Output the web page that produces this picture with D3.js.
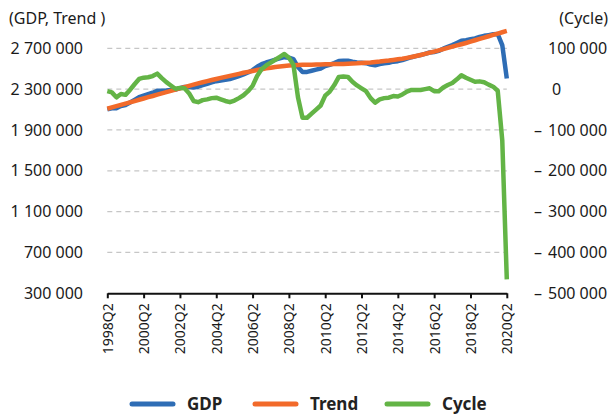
<!DOCTYPE html>
<html>
<head>
<meta charset="utf-8">
<script src="https://cdn.jsdelivr.net/npm/d3@7"></script>
<style>
  body { margin: 0; background: #fff; }
  svg { display: block; font-family: "Noto Sans", sans-serif; }
</style>
</head>
<body>
<div id="chart"></div>
<script>
// quarterly labels, 1998Q2 .. 2020Q2
const quarters = [];
for (let y = 1998; y <= 2020; y++) {
  for (let q = 1; q <= 4; q++) {
    if ((y === 1998 && q < 2) || (y === 2020 && q > 2)) continue;
    quarters.push(y + "Q" + q);
  }
}
const tickLabels = ["1998Q2", "2000Q2", "2002Q2", "2004Q2", "2006Q2", "2008Q2",
  "2010Q2", "2012Q2", "2014Q2", "2016Q2", "2018Q2", "2020Q2"];

// values in thousands
const gdp = [2103, 2113, 2113, 2134, 2144, 2169, 2195, 2221, 2236, 2250,
  2265, 2284, 2285, 2287, 2292, 2296, 2310, 2322, 2322, 2315,
  2324, 2340, 2353, 2367, 2378, 2385, 2391, 2398, 2412, 2428,
  2445, 2464, 2486, 2519, 2544, 2561, 2575, 2589, 2601, 2613,
  2608, 2594, 2516, 2468, 2469, 2480, 2491, 2502, 2527, 2538,
  2555, 2576, 2578, 2579, 2569, 2562, 2558, 2554, 2540, 2533,
  2545, 2553, 2559, 2569, 2574, 2585, 2600, 2613, 2623, 2633,
  2646, 2659, 2663, 2675, 2696, 2714, 2731, 2752, 2774, 2780,
  2788, 2797, 2811, 2822, 2829, 2837, 2840, 2732, 2404];

const trend = [2108, 2121, 2133, 2146, 2158, 2171, 2183, 2196, 2208, 2221,
  2233, 2246, 2258, 2270, 2283, 2295, 2307, 2320, 2332, 2344,
  2356, 2367, 2378, 2389, 2399, 2410, 2420, 2430, 2440, 2450,
  2460, 2469, 2478, 2487, 2495, 2503, 2510, 2517, 2522, 2527,
  2531, 2534, 2536, 2538, 2539, 2540, 2541, 2542, 2543, 2544,
  2545, 2546, 2547, 2549, 2551, 2553, 2556, 2559, 2562, 2566,
  2570, 2575, 2580, 2586, 2592, 2598, 2606, 2615, 2625, 2635,
  2646, 2657, 2668, 2680, 2692, 2704, 2716, 2728, 2740, 2752,
  2765, 2779, 2792, 2805, 2818, 2831, 2844, 2857, 2870];

const cycle = [-5, -8, -20, -12, -14, -2, 12, 25, 28, 29,
  32, 38, 27, 17, 9, 1, 3, 2, -10, -29,
  -32, -27, -25, -22, -21, -25, -29, -32, -28, -22,
  -15, -5, 8, 32, 49, 58, 65, 72, 79, 86,
  77, 60, -20, -70, -70, -60, -50, -40, -16, -6,
  10, 30, 31, 30, 18, 9, 2, -5, -22, -33,
  -25, -22, -21, -17, -18, -13, -6, -2, -2, -2,
  0, 2, -5, -5, 4, 10, 15, 24, 34, 28,
  23, 18, 19, 17, 11, 6, -4, -125, -466];

const leftTicks = [300000, 700000, 1100000, 1500000, 1900000, 2300000, 2700000];
const rightTicks = [100000, 0, -100000, -200000, -300000, -400000, -500000];

const seriesNames = ["GDP", "Trend", "Cycle"];
const colors = { GDP: "#2e6db5", Trend: "#f26a2a", Cycle: "#63b446" };

const width = 612;
const height = 416;

const svg = d3.select("#chart").append("svg")
  .attr("width", width)
  .attr("height", height);

const x = d3.scaleLinear().domain([0, quarters.length - 1]).range([107.3, 506.8]);
const yLeft = d3.scaleLinear().domain([300000, 2700000]).range([293.3, 48.3]);
const yRight = d3.scaleLinear().domain([-500000, 100000]).range([293.3, 48.3]);

const fmt = (v) => d3.format(",")(Math.abs(v)).replace(/,/g, " ");

// grid
svg.append("g")
  .selectAll("line")
  .data(leftTicks.slice(1))
  .join("line")
  .attr("x1", x(0))
  .attr("x2", x(quarters.length - 1))
  .attr("y1", (d) => yLeft(d))
  .attr("y2", (d) => yLeft(d))
  .attr("stroke", "#c6c6c6")
  .attr("stroke-width", 1.2)
  .attr("stroke-dasharray", "5,4");

// left labels
svg.append("g")
  .selectAll("text")
  .data(leftTicks)
  .join("text")
  .attr("x", 83)
  .attr("y", (d) => yLeft(d))
  .attr("dy", "0.35em")
  .attr("text-anchor", "end")
  .attr("font-size", 16)
  .attr("fill", "#1a1a1a")
  .text(fmt);

// right labels
const right = svg.append("g");
right.selectAll("text.num")
  .data(rightTicks)
  .join("text")
  .attr("class", "num")
  .attr("x", (d) => (d === 0 ? 552 : 548))
  .attr("y", (d) => yRight(d))
  .attr("dy", "0.35em")
  .attr("font-size", 16)
  .attr("fill", "#1a1a1a")
  .text(fmt);
right.selectAll("text.neg")
  .data(rightTicks.filter((d) => d < 0))
  .join("text")
  .attr("class", "neg")
  .attr("x", 542)
  .attr("y", (d) => yRight(d))
  .attr("dy", "0.35em")
  .attr("text-anchor", "end")
  .attr("font-size", 16)
  .attr("fill", "#1a1a1a")
  .text("–");

svg.append("text")
  .attr("x", 9).attr("y", 24)
  .attr("font-size", 16).attr("fill", "#1a1a1a")
  .text("(GDP, Trend )");
svg.append("text")
  .attr("x", 608).attr("y", 24)
  .attr("text-anchor", "end")
  .attr("font-size", 16).attr("fill", "#1a1a1a")
  .text("(Cycle)");

// x axis
const xAxis = d3.axisBottom(x)
  .tickValues(tickLabels.map((t) => quarters.indexOf(t)))
  .tickFormat((i) => quarters[i])
  .tickSize(5)
  .tickSizeOuter(0);

const gx = svg.append("g")
  .attr("transform", `translate(0,${yLeft(300000)})`)
  .call(xAxis);
gx.select(".domain").attr("stroke", "#111").attr("stroke-width", 2);
gx.selectAll(".tick line").attr("stroke", "#111").attr("stroke-width", 2);
gx.selectAll(".tick text")
  .attr("transform", "rotate(-90)")
  .attr("x", -10)
  .attr("y", 0)
  .attr("dy", "0.35em")
  .attr("text-anchor", "end")
  .attr("font-size", 14)
  .attr("font-family", "Noto Sans, sans-serif")
  .attr("fill", "#1a1a1a");

// lines
const lineLeft = d3.line()
  .x((d, i) => x(i))
  .y((d) => yLeft(d * 1000));
const lineRight = d3.line()
  .x((d, i) => x(i))
  .y((d) => yRight(d * 1000));

const paths = [
  { name: "GDP", d: lineLeft(gdp) },
  { name: "Trend", d: lineLeft(trend) },
  { name: "Cycle", d: lineRight(cycle) }
];

svg.append("g")
  .selectAll("path")
  .data(paths)
  .join("path")
  .attr("d", (p) => p.d)
  .attr("fill", "none")
  .attr("stroke", (p) => colors[p.name])
  .attr("stroke-width", 4.5)
  .attr("stroke-linejoin", "round");

// legend
const legendX = [132, 255, 387];
const legend = svg.append("g")
  .selectAll("g")
  .data(seriesNames)
  .join("g")
  .attr("transform", (d, i) => `translate(${legendX[i]},404)`);
legend.append("line")
  .attr("x1", 0).attr("x2", 41)
  .attr("stroke", (d) => colors[d])
  .attr("stroke-width", 5)
  .attr("stroke-linecap", "round");
legend.append("text")
  .attr("x", 55)
  .attr("dy", "0.35em")
  .attr("font-size", 17)
  .attr("font-weight", "bold")
  .attr("fill", "#222")
  .text((d) => d);
</script>
</body>
</html>
